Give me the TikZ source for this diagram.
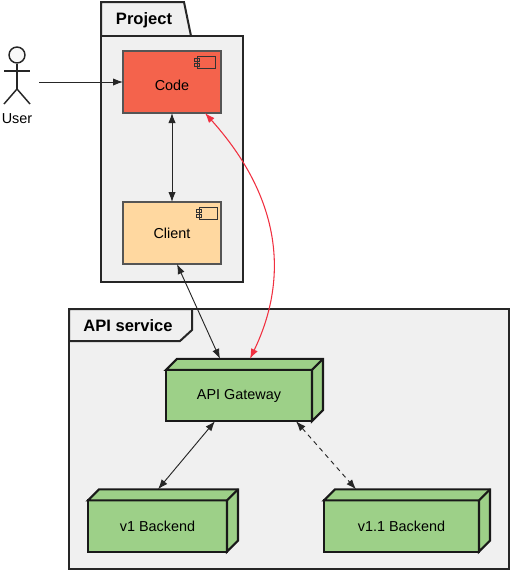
\documentclass[tikz,border=0pt]{standalone}
\usepackage{fontspec}
\setmainfont{Liberation Sans}
\usetikzlibrary{arrows.meta,calc}

\definecolor{panelgray}{HTML}{F0F0F0}
\definecolor{codered}{HTML}{F4634C}
\definecolor{clientorange}{HTML}{FFD8A0}
\definecolor{backendgreen}{HTML}{9DD088}
\definecolor{edgegray}{HTML}{555555}
\definecolor{linkred}{HTML}{F03040}

\begin{document}
\begin{tikzpicture}[
        x=0.75pt, y=-0.75pt,
        font=\fontsize{10.8pt}{13pt}\selectfont,
        panel/.style={draw=black!85, line width=1.5pt, fill=panelgray, line join=miter},
        tabtext/.style={font=\fontsize{12.4pt}{15pt}\selectfont\bfseries, inner sep=0pt},
        compbox/.style={draw=edgegray, line width=1pt, outer sep=0pt, minimum width=73.5pt, minimum height=46.5pt},
        icon/.style={draw=black!80, line width=0.75pt},
        cubeface/.style={draw=black!90, line width=1.6pt, fill=backendgreen, line join=miter},
        cubefront/.style={cubeface, outer sep=0pt, minimum height=38.5pt},
        arrow/.style={-{Latex[length=7.5pt,width=5.5pt]}, line width=0.7pt, black!85},
        twoway/.style={arrow, {Latex[length=7.5pt,width=5.5pt]}-{Latex[length=7.5pt,width=5.5pt]}},
        actorline/.style={line width=1.1pt, black!85}
        ]
        \useasboundingbox (0,0) rectangle (511,571);

        % --- Project package ---
        \draw[panel] (101,36) -- (101,2) -- (184,2) -- (191,36) -- cycle;
        \draw[panel] (101,36) rectangle (243,282);
        \node[tabtext] (project) at (144,20) {Project};

        % --- API service package ---
        \draw[panel] (69,309) rectangle (509,569);
        \draw[panel] (69,309) -- (192,309) -- (192,330) -- (180,341) -- (69,341) -- cycle;
        \node[tabtext] (service) at (128,326) {API service};

        % Components
        \node[compbox, fill=codered]      (code)   at (172,82)  {\raisebox{-6pt}[0pt][0pt]{Code}};
        \node[compbox, fill=clientorange] (client) at (172,233) {Client};

        % Component icons
        \foreach \ix/\iy in {197/56, 199/207} {
            \draw[icon] (\ix,\iy) rectangle ++(18.5,12.5);
            \draw[icon] (\ix-2.5,\iy+2.5) rectangle ++(5,3);
            \draw[icon] (\ix-2.5,\iy+7) rectangle ++(5,3);
        }

        % Cuboids: front nodes first, depth drawn from them
        \node[cubefront, minimum width=109.5pt] (gateway) at (239,395.5) {API Gateway};
        \node[cubefront, minimum width=104.25pt] (vone)   at (157.5,526) {v1 Backend};
        \node[cubefront, minimum width=116.25pt] (vtwo)   at (401.5,526) {v1.1 Backend};
        \foreach \n in {gateway, vone, vtwo} {
            \draw[cubeface] (\n.north west) -- ++(11,-11) -- ($(\n.north east)+(11,-11)$)
                -- ($(\n.south east)+(11,-11)$) -- (\n.south east) -- (\n.north east) -- cycle;
            \draw[cubeface] (\n.north east) -- ++(11,-11);
        }

        % User
        \node[draw=black!85, line width=1.1pt, fill=panelgray!50, circle, minimum size=12pt, inner sep=0pt] (head) at (17,55) {};
        \coordinate (hip) at (17,89);
        \coordinate (hand) at (39,82);
        \draw[actorline] (head.south) -- (hip);
        \draw[actorline] (4,71) -- (30,71);
        \draw[actorline] (4,104) -- (hip) -- (30,104);
        \node[inner sep=0pt] (user) at (17,119) {User};

        % Arrows
        \draw[arrow] (hand) -- (code.west);
        \draw[twoway] (code.south) -- (client.north);
        \draw[twoway] ($(client.south)+(5,0)$) -- ($(gateway.north)+(-19,-11)$);
        \draw[twoway, linkred, line width=0.8pt] ($(code.south)+(33,0)$) .. controls (283,200) and (288,280) .. ($(gateway.north)+(11,-11)$);
        \draw[twoway] ($(gateway.south)+(-24,0)$) -- ($(vone.north)+(0.5,-11)$);
        \draw[twoway, dash pattern=on 3.5pt off 3pt] ($(gateway.south)+(57,0)$) -- ($(vtwo.north)+(-45.5,-11)$);

    \end{tikzpicture}
\end{document}
